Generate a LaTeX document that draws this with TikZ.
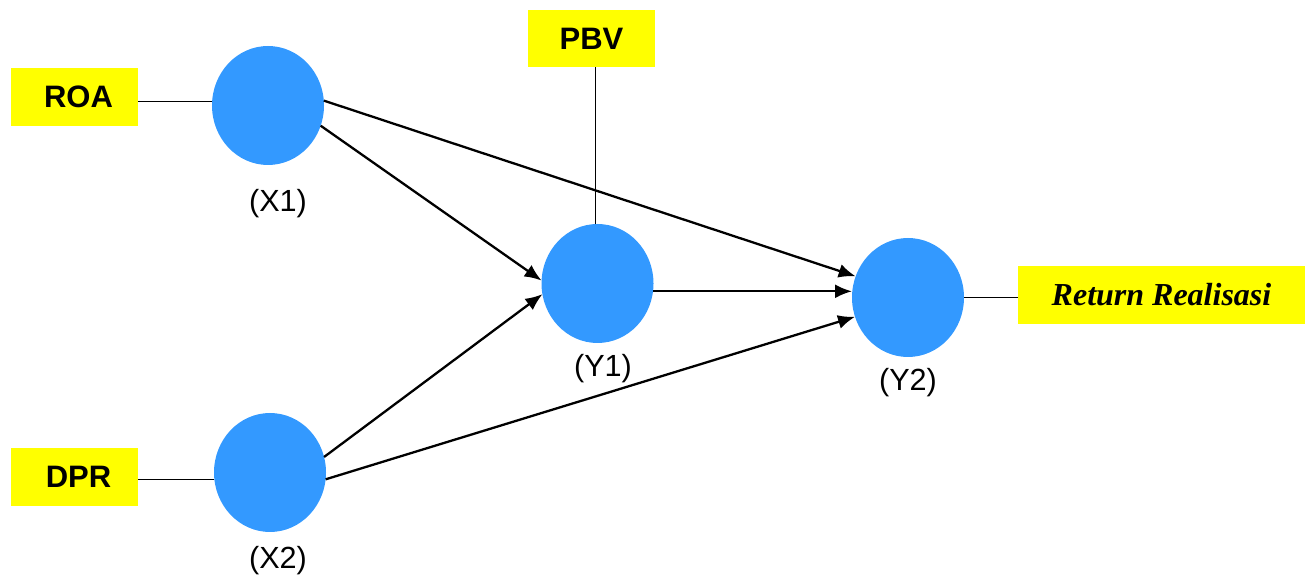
\documentclass[tikz,border=0pt]{standalone}
\usepackage{fontspec}
\setmainfont{Liberation Serif}
\setsansfont{Liberation Sans}
\usetikzlibrary{arrows.meta,shapes.geometric}
\definecolor{varblue}{HTML}{3399FF}
\definecolor{boxyellow}{HTML}{FFFF00}
\tikzset{
  latent/.style={ellipse, fill=varblue, draw=none, inner sep=0pt, outer sep=0pt,
    minimum width=56pt, minimum height=59.5pt},
  indicator/.style={rectangle, fill=boxyellow, draw=none, inner sep=0pt, outer sep=0pt,
    minimum width=63.5pt, minimum height=29pt,
    font=\sffamily\bfseries\fontsize{15.5}{17}\selectfont},
  caption/.style={font=\sffamily\fontsize{15.3}{17}\selectfont, inner sep=0pt},
  path/.style={line width=1.15pt, -{Latex[length=8.5pt,width=7pt]}},
  link/.style={line width=0.8pt}
}
\begin{document}
\begin{tikzpicture}[x=0.5pt,y=-0.5pt]
\useasboundingbox (0,0) rectangle (1312,576);

% latent variables
\node[latent] (X1) at (268,105.5) {};
\node[latent] (X2) at (270,472.5) {};
\node[latent] (Y1) at (597.5,283.5) {};
\node[latent] (Y2) at (908,297.5) {};

% indicators
\node[indicator] (ROA) at (74.5,97) {\hspace*{4pt}ROA};
\node[indicator] (DPR) at (74.5,477) {\hspace*{4pt}DPR};
\node[indicator, minimum height=28.5pt] (PBV) at (591.5,38.5) {PBV};
\node[indicator, minimum width=143.5pt, font=\rmfamily\bfseries\itshape\fontsize{16}{18}\selectfont]
  (RET) at (1161.5,295) {Return Realisasi};

% variable captions
\node[caption] (LX1) at (278,204) {(X1)};
\node[caption] (LX2) at (278,561) {(X2)};
\node[caption] (LY1) at (603,369) {(Y1)};
\node[caption] (LY2) at (908,383) {(Y2)};

% indicator links
\draw[link] (X1.176) -- (X1.176 -| ROA.east);
\draw[link] (X2.187) -- (X2.187 -| DPR.east);
\draw[link] (Y1.92) -- (Y1.92 |- PBV.south);
\draw[link] (Y2.east) -- (Y2.east -| RET.west);

% structural paths
\draw[path] (X1.5) -- (Y2.158);
\draw[path] (X1.-21) -- (Y1.177);
\draw[path] (X2.16) -- (Y1.-169);
\draw[path] (X2.-7) -- (Y2.-160);
\draw[path] (Y1.-8) -- (Y1.-8 -| Y2.west);
\end{tikzpicture}
\end{document}
